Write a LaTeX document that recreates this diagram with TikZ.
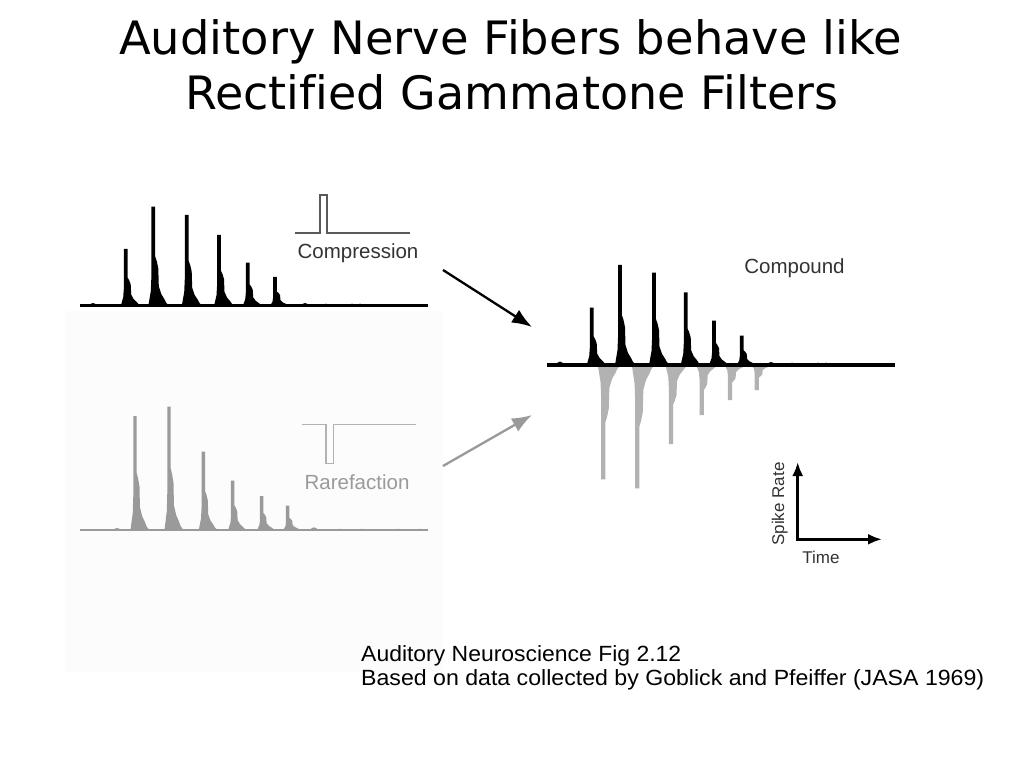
\documentclass[tikz,border=0pt]{standalone}
\usepackage{fontspec}
\usepackage{graphicx}
\setmainfont{Liberation Sans}
\newfontfamily\titlefont[Ligatures=NoCommon]{DejaVu Sans}
\usetikzlibrary{arrows.meta}
\definecolor{rgray}{HTML}{9A9A9A}
\definecolor{ngray}{HTML}{B2B2B2}
\definecolor{pgray}{HTML}{5A5A5A}
\definecolor{tgray}{HTML}{333333}
\definecolor{panelbg}{HTML}{FCFCFC}
\newcommand{\spikeshape}[5]{%
  \pgfmathsetmacro{\hh}{#3-#2}%
  \fill[#4] ({#1-5*#5},#2) -- ({#1-4*#5},{#2+0.06*\hh}) -- ({#1-2.5*#5},{#2+0.15*\hh})
   -- ({#1-1.9*#5},{#2+0.3*\hh}) -- ({#1-1.9*#5},#3) -- ({#1+1.9*#5},#3)
   -- ({#1+1.9*#5},{#2+0.5*\hh}) -- ({#1+3.5*#5},{#2+0.45*\hh}) -- ({#1+5*#5},{#2+0.38*\hh})
   -- ({#1+5.5*#5},{#2+0.2*\hh}) -- ({#1+8*#5},{#2+0.12*\hh}) -- ({#1+11*#5},{#2+0.07*\hh})
   -- ({#1+13*#5},{#2+0.03*\hh}) -- ({#1+16*#5},#2) -- cycle;}
\newcommand{\bumpshape}[4]{%
  \fill[#4] ({#1-4},#2) .. controls ({#1-2},{#2-#3}) and ({#1+2},{#2-#3}) .. ({#1+4},#2) -- cycle;}
\tikzset{
  lbl/.style={inner sep=0pt, font=\fontsize{20.5}{22}\selectfont},
  axlbl/.style={inner sep=0pt, font=\fontsize{17}{19}\selectfont, text=tgray},
  capt/.style={inner sep=0pt, anchor=base west},
  bigarrow/.style={line width=2.3pt, -{Latex[length=20pt,width=15pt]}},
  axarrow/.style={line width=3pt, -{Latex[length=14pt,width=11pt]}}
}
\begin{document}
\begin{tikzpicture}[x=1pt,y=-1pt]
\fill[white] (0,0) rectangle (1023,767);
\useasboundingbox (0,0) rectangle (1023,767);
% faint panel behind the left traces
\fill[panelbg] (65,311) rectangle (443,672);

% title
\node[capt] (t1) at (119,55) {\resizebox{783pt}{\height}{\titlefont\fontsize{46}{50}\selectfont Auditory Nerve Fibers behave like}};
\node[capt] (t2) at (185,110) {\resizebox{653pt}{\height}{\titlefont\fontsize{46}{50}\selectfont Rectified Gammatone Filters}};

% ---- compression trace (top left)
\foreach \x/\t in {125.7/249, 153.3/206.7, 186.7/215, 219/235, 247.7/262.7, 275/277}
  {\spikeshape{\x}{306}{\t}{black}{1}}
\foreach \x/\h in {93/4, 305/4, 326/3, 352/3, 360/3, 398/1.5}
  {\bumpshape{\x}{306}{\h}{black}}
\draw[line width=3pt] (80,306) -- (428,306);
\draw[pgray, line width=1.6pt] (295,233.3) -- (320,233.3) -- (320,195) -- (326.7,195) -- (326.7,233.3) -- (410,233.3);
\node[lbl, text=tgray, anchor=base] (comp) at (358,258.3) {Compression};

% ---- rarefaction trace (bottom left)
\foreach \x/\t in {135/416, 169/406.7, 203.3/451.7, 232.7/480.7, 261.7/496, 287.7/505.7}
  {\spikeshape{\x}{530}{\t}{rgray}{0.9}}
\foreach \x/\h in {117/2.5, 314/3.5, 340/1.5, 362/1.5, 398/1.5, 420/1.5}
  {\bumpshape{\x}{530}{\h}{rgray}}
\draw[rgray, line width=1.5pt] (80,530) -- (428,530);
\draw[ngray, line width=1.6pt] (301.7,424.3) -- (325.7,424.3) -- (325.7,463.3) -- (333.3,463.3) -- (333.3,424.3) -- (416,424.3);
\node[lbl, text=rgray, anchor=base] (rare) at (357,489) {Rarefaction};

% ---- compound trace (right)
\foreach \x/\t in {603.3/479.3, 637.3/488.3, 671/444, 701.7/415, 730/400, 756.7/390}
  {\spikeshape{\x}{365}{\t}{ngray}{1.1}}
\foreach \x/\t in {591.7/307.7, 620/265, 654/272.7, 685.7/292.3, 714/320.7, 741.7/335.7}
  {\spikeshape{\x}{365}{\t}{black}{1}}
\foreach \x/\h in {560/4.5, 771/4, 792/3, 818/3, 826/3, 865/1.5}
  {\bumpshape{\x}{365}{\h}{black}}
\draw[line width=3pt] (547,365) -- (895,365);
\node[lbl, text=tgray, anchor=base] (cpd) at (794.5,273.3) {Compound};

% ---- arrows between panels
\coordinate (cfrom) at (443,270);
\coordinate (cto) at (532,327);
\coordinate (rfrom) at (443,466);
\coordinate (rto) at (532,415);
\draw[bigarrow] (cfrom) -- (cto);
\draw[bigarrow, rgray] (rfrom) -- (rto);

% ---- axes
\coordinate (orig) at (797.7,539.3);
\coordinate (ytip) at (797.7,462);
\coordinate (xtip) at (882,539.3);
\draw[axarrow] (orig) -- (ytip);
\draw[axarrow] ([xshift=-1.5pt]orig) -- (xtip);
\node[axlbl, rotate=90, anchor=base] (srate) at (784,504) {Spike Rate};
\node[axlbl, anchor=base] (time) at (821,563.3) {Time};

% ---- caption
\node[capt] (c1) at (361,661) {\resizebox{320pt}{\height}{\fontsize{22}{24}\selectfont Auditory Neuroscience Fig 2.12}};
\node[capt] (c2) at (361,685) {\resizebox{623pt}{\height}{\fontsize{22}{24}\selectfont Based on data collected by Goblick and Pfeiffer (JASA 1969)}};
\end{tikzpicture}
\end{document}
